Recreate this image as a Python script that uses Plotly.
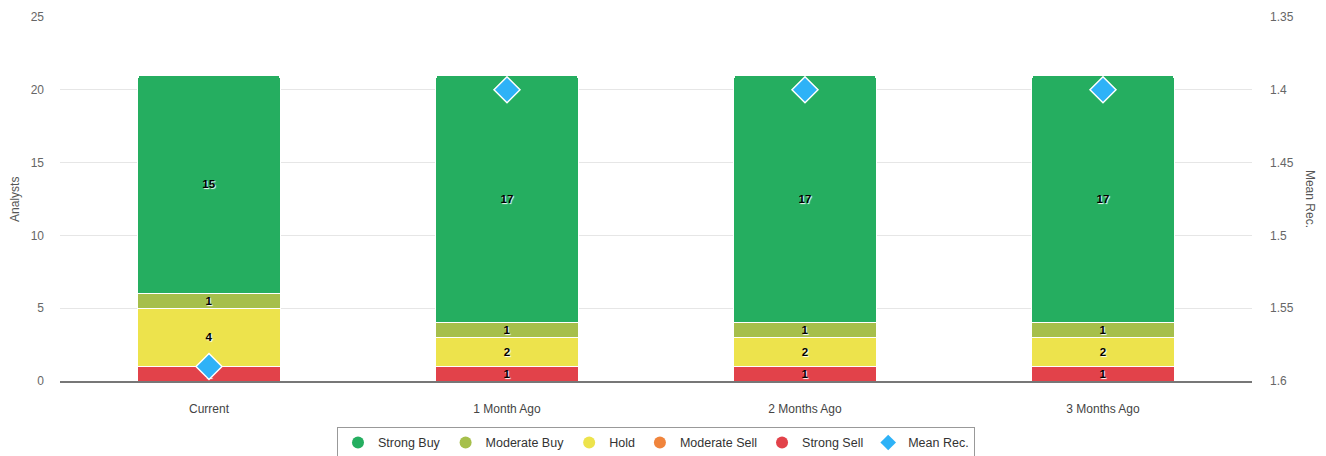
import plotly.graph_objects as go

categories = ["Current", "1 Month Ago", "2 Months Ago", "3 Months Ago"]
strong_buy = [15, 17, 17, 17]
moderate_buy = [1, 1, 1, 1]
hold = [4, 2, 2, 2]
moderate_sell = [0, 0, 0, 0]
strong_sell = [1, 1, 1, 1]
mean_rec = [1.59, 1.4, 1.4, 1.4]
right_ticks = [1.35, 1.4, 1.45, 1.5, 1.55, 1.6]
right_tick_text = ["1.35", "1.4", "1.45", "1.5", "1.55", "1.6"]

colors = {
    "Strong Buy": "#25ae60",
    "Moderate Buy": "#a6bf4b",
    "Hold": "#ede34c",
    "Moderate Sell": "#f0843c",
    "Strong Sell": "#e2424a",
}
MEAN_COLOR = "#2eb2f7"

FONT = "Liberation Sans, Arial, Helvetica, sans-serif"
fig = go.Figure()

stack = [
    ("Strong Sell", strong_sell),
    ("Moderate Sell", moderate_sell),
    ("Hold", hold),
    ("Moderate Buy", moderate_buy),
    ("Strong Buy", strong_buy),
]
for name, vals in stack:
    fig.add_trace(go.Bar(
        x=categories, y=vals, name=name,
        marker=dict(color=colors[name], line=dict(color="white", width=1)),
        text=[str(v) if v else "" for v in vals],
        textposition="inside", insidetextanchor="middle", textangle=0,
        textfont=dict(color="black", size=11.5, family=FONT, weight="bold",
                      shadow="1px 1px 1px white"),
        constraintext="none",
        showlegend=False, hoverinfo="skip",
    ))

fig.add_trace(go.Scatter(
    x=categories, y=mean_rec, yaxis="y2", mode="markers", name="Mean Rec.",
    marker=dict(symbol="diamond", size=20, color=MEAN_COLOR,
                line=dict(color="white", width=1.5)),
    showlegend=False,
))

# legend entries
for name in ["Strong Buy", "Moderate Buy", "Hold", "Moderate Sell", "Strong Sell"]:
    fig.add_trace(go.Scatter(
        x=[None], y=[None], mode="markers", name=name,
        marker=dict(symbol="circle", size=12, color=colors[name]),
        showlegend=True,
    ))
fig.add_trace(go.Scatter(
    x=[None], y=[None], mode="markers", name="Mean Rec.", yaxis="y2",
    marker=dict(symbol="diamond", size=12, color=MEAN_COLOR),
    showlegend=True,
))

fig.update_layout(
    width=1318, height=448,
    barmode="stack", bargap=0.523, barcornerradius=3,
    plot_bgcolor="white", paper_bgcolor="white",
    margin=dict(l=52, r=74, t=9, b=75, autoexpand=False),
    font=dict(family=FONT, color="#666666", size=12),
    xaxis=dict(showgrid=False, showline=True, linecolor="#777777", linewidth=1.5,
               tickfont=dict(color="#444444", size=12), ticks="",
               ticklabelstandoff=16, automargin=False),
    yaxis=dict(range=[0, 25], dtick=5, showgrid=True, gridcolor="#e6e6e6",
               zeroline=False, automargin=False, ticklabelstandoff=15,
               tickfont=dict(color="#666666", size=12)),
    yaxis2=dict(overlaying="y", side="right", range=[1.6, 1.35],
                tickvals=right_ticks, ticktext=right_tick_text,
                showgrid=False, zeroline=False, automargin=False,
                ticklabelstandoff=17,
                tickfont=dict(color="#666666", size=12)),
    legend=dict(orientation="h", x=0.5, xanchor="center", y=-0.126, yanchor="top",
                traceorder="normal", itemwidth=30,
                bordercolor="#999999", borderwidth=1, bgcolor="white",
                font=dict(size=12.5, color="#333333"), itemsizing="constant"),
    showlegend=True,
    annotations=[
        dict(text="Analysts", xref="paper", yref="paper", x=-0.0378, y=0.5,
             xanchor="center", yanchor="middle", textangle=-90, showarrow=False,
             font=dict(size=12, color="#555555")),
        dict(text="Mean Rec.", xref="paper", yref="paper", x=1.0487, y=0.5,
             xanchor="center", yanchor="middle", textangle=90, showarrow=False,
             font=dict(size=12, color="#555555")),
    ],
)

fig.write_html("out.html")
